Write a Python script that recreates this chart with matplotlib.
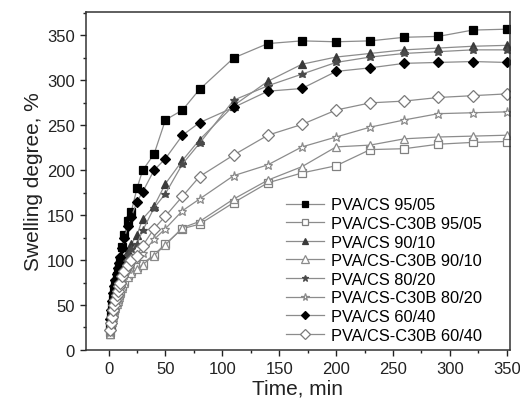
import matplotlib
matplotlib.use("Agg")
import matplotlib.pyplot as plt
from matplotlib.ticker import MultipleLocator

plt.rcParams['font.family'] = ['Liberation Sans', 'DejaVu Sans']

# sampling times (min), shared by all series
time_min = [1, 2, 3, 4, 5, 6, 7, 8, 9, 10, 12, 14, 17, 20, 25, 30, 40, 50, 65, 80,
            110, 140, 170, 200, 230, 260, 290, 320, 350]

pva_cs_95 = [27, 38, 48, 57, 66, 74, 82, 88, 94, 100, 115, 128, 144, 154, 180, 200, 218, 256, 267, 290,
             325, 341, 344, 343, 344, 348, 349, 356, 357]
c30b_95 = [20, 27, 33, 39, 44, 49, 53, 57, 61, 65, 71, 76, 83, 88, 92, 96, 106, 118, 135, 140,
           164, 186, 197, 205, 223, 224, 229, 231, 232]
pva_cs_90 = [18, 28, 37, 45, 52, 58, 64, 70, 75, 80, 90, 98, 110, 118, 128, 146, 160, 185, 211, 234,
             272, 299, 318, 326, 330, 334, 336, 338, 339]
c30b_90 = [18, 25, 31, 37, 42, 47, 51, 55, 59, 63, 69, 74, 81, 86, 90, 95, 105, 117, 136, 143,
           168, 189, 204, 226, 228, 235, 237, 238, 239]
pva_cs_80 = [20, 30, 39, 47, 54, 60, 66, 71, 76, 81, 90, 97, 106, 112, 118, 133, 158, 174, 207, 230,
             278, 294, 307, 320, 326, 330, 332, 334, 334]
c30b_80 = [20, 28, 35, 41, 47, 52, 57, 62, 66, 70, 77, 83, 90, 96, 102, 108, 123, 135, 155, 168,
           194, 206, 226, 237, 248, 256, 263, 264, 265]
pva_cs_60 = [35, 45, 55, 63, 71, 78, 85, 91, 97, 103, 114, 125, 138, 148, 165, 176, 200, 213, 239, 253,
             270, 288, 291, 310, 314, 319, 320, 321, 320]
c30b_60 = [22, 30, 37, 44, 50, 56, 61, 66, 71, 75, 82, 88, 95, 100, 105, 116, 135, 149, 171, 193,
           217, 239, 251, 267, 275, 277, 281, 283, 285]

labels = ["PVA/CS 95/05", "PVA/CS-C30B 95/05", "PVA/CS 90/10", "PVA/CS-C30B 90/10",
          "PVA/CS 80/20", "PVA/CS-C30B 80/20", "PVA/CS 60/40", "PVA/CS-C30B 60/40"]
series = [pva_cs_95, c30b_95, pva_cs_90, c30b_90, pva_cs_80, c30b_80, pva_cs_60, c30b_60]

# marker, face, edge, size
styles = [
    ('s', 'black', 'black', 5.4),
    ('s', 'white', '#808080', 5.4),
    ('^', '#3a3a3a', '#3a3a3a', 6.0),
    ('^', 'white', '#8a8a8a', 6.4),
    ('*', '#4a4a4a', '#4a4a4a', 6.2),
    ('*', 'white', '#8a8a8a', 6.7),
    ('D', 'black', 'black', 5.4),
    ('D', 'white', '#7a7a7a', 5.8),
]

fig = plt.figure(figsize=(5.2, 4.1), dpi=100)
ax = fig.add_axes([0.165, 0.144, 0.816, 0.824])

for vals, lab, (m, fc, ec, ms) in zip(series, labels, styles):
    ax.plot(time_min, vals, color='#8c8c8c', lw=0.9, marker=m, ms=ms,
            markerfacecolor=fc, markeredgecolor=ec, markeredgewidth=0.9, label=lab)

ax.set_xlim(-20, 353)
ax.set_ylim(0, 376)
ax.xaxis.set_major_locator(MultipleLocator(50))
ax.xaxis.set_minor_locator(MultipleLocator(25))
ax.yaxis.set_major_locator(MultipleLocator(50))
ax.yaxis.set_minor_locator(MultipleLocator(25))
ax.tick_params(which='both', direction='out', top=False, right=False, labelsize=12, colors='#222222')
ax.tick_params(which='major', length=4.5, width=1)
ax.tick_params(which='minor', length=2.5, width=1)
for s in ax.spines.values():
    s.set_linewidth(1.1)
    s.set_color('#333333')

ax.set_xlabel("Time, min", fontsize=15, labelpad=2, color='#222222')
ax.set_ylabel("Swelling degree, %", fontsize=15, labelpad=3, color='#222222')

ax.legend(loc='lower right', bbox_to_anchor=(0.96, -0.012), frameon=False, fontsize=11.8,
          handlelength=2.3, handletextpad=0.4, labelspacing=0.22, borderpad=0.2, markerscale=0.8)

fig.savefig("out.png", dpi=100)
